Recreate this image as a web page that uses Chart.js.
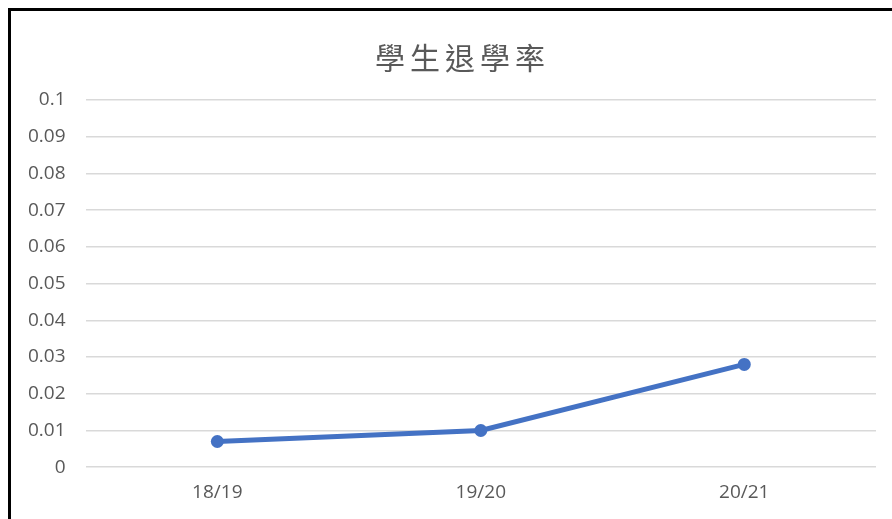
<!DOCTYPE html>
<html>
<head>
<meta charset="utf-8">
<script src="https://cdn.jsdelivr.net/npm/chart.js@4/dist/chart.umd.min.js"></script>
<style>
  html, body { margin: 0; padding: 0; background: #fff; }
  #wrap { position: relative; width: 892px; height: 519px; overflow: hidden; }
  #frame {
    position: absolute; left: 8px; top: 8px; width: 900px; height: 530px;
    border-left: 3px solid #000; border-top: 3px solid #000; pointer-events: none;
  }
  canvas { position: absolute; left: 0; top: 0; }
</style>
</head>
<body>
<div id="wrap">
  <canvas id="dropoutChart" width="892" height="519"></canvas>
  <div id="frame"></div>
</div>
<script>
const chartTitle = '學生退學率';
const years = ['18/19', '19/20', '20/21'];
const dropoutRate = [0.007, 0.010, 0.028];

const textGrey = '#595959';
const lineBlue = '#4472C4';

// title drawn by hand so the characters can be spaced out like the original
const spacedTitle = {
  id: 'spacedTitle',
  afterDraw(chart) {
    const ctx = chart.ctx;
    ctx.save();
    ctx.font = '400 30px "Noto Sans CJK TC", "Noto Sans CJK SC", sans-serif';
    ctx.fillStyle = textGrey;
    ctx.textAlign = 'center';
    ctx.textBaseline = 'middle';
    ctx.letterSpacing = '5px';
    ctx.fillText(chartTitle, 460 + 2.5, 58);
    ctx.restore();
  }
};

const chart = new Chart(document.getElementById('dropoutChart'), {
  type: 'line',
  data: {
    labels: years,
    datasets: [{
      data: dropoutRate,
      borderColor: lineBlue,
      backgroundColor: lineBlue,
      borderWidth: 5,
      pointRadius: 6.5,
      pointHoverRadius: 6.5,
      pointBorderWidth: 0,
      tension: 0
    }]
  },
  options: {
    responsive: false,
    animation: false,
    layout: { padding: { left: 8, right: 16, top: 100, bottom: 1 } },
    plugins: {
      legend: { display: false },
      title: { display: false },
      tooltip: { enabled: false }
    },
    scales: {
      x: {
        offset: true,
        grid: { display: false, drawTicks: false },
        border: { display: false },
        ticks: {
          color: textGrey,
          padding: 14,
          font: { family: '"Open Sans", sans-serif', size: 19 }
        }
      },
      y: {
        min: 0,
        max: 0.1,
        grid: { color: '#d9d9d9', lineWidth: 1.5, drawTicks: false },
        border: { display: false },
        ticks: {
          stepSize: 0.01,
          color: textGrey,
          padding: 20,
          font: { family: '"Open Sans", sans-serif', size: 19 },
          callback: v => String(+v.toFixed(2))
        }
      }
    }
  },
  plugins: [spacedTitle]
});
</script>
</body>
</html>
